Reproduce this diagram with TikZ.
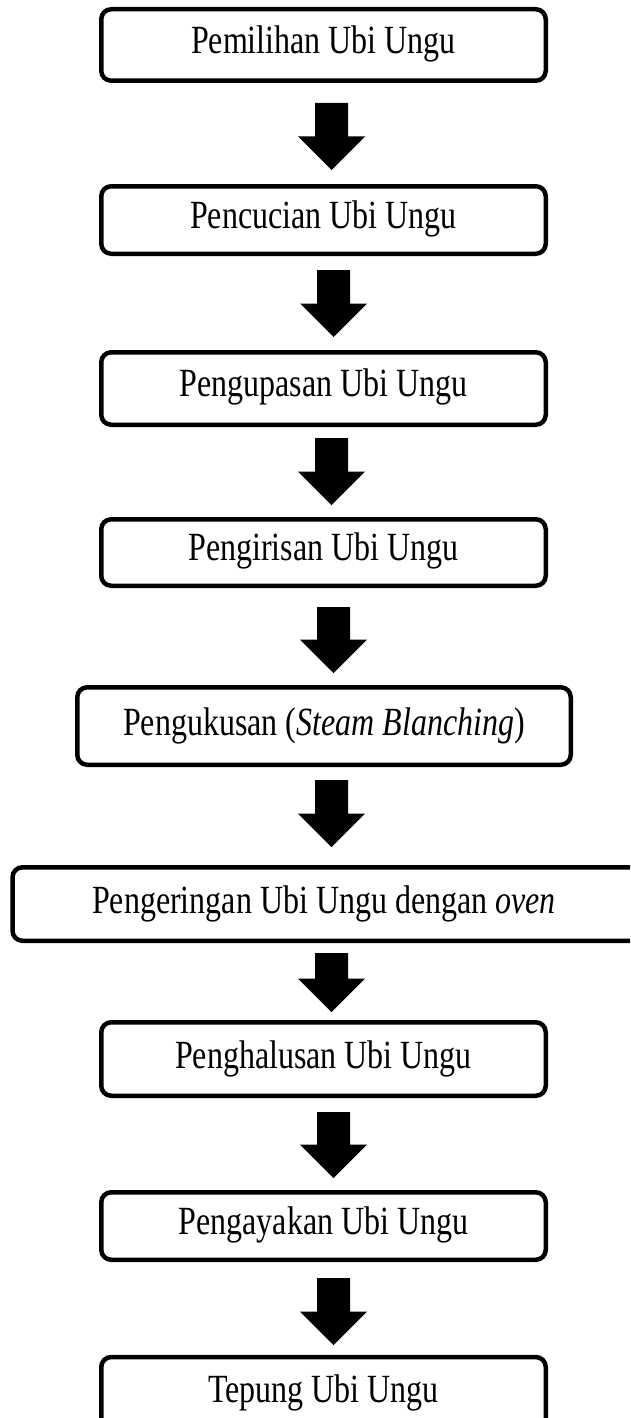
\documentclass[tikz,border=0pt]{standalone}
\usepackage{fontspec}
\setmainfont{Liberation Serif}
\usetikzlibrary{calc}
\tikzset{
  stepbox/.style={draw=black, line width=4.5pt, rounded corners=10pt, inner sep=0pt, fill=white},
  lbl/.style={anchor=base, inner sep=0pt, font=\fontsize{32}{38}\selectfont},
  arrowfill/.style={fill=black}
}
\newcommand\blkarrow[2]{%
  \fill[arrowfill] ($(#1)+(-16.5,0)$) -- ($(#1)+(16.5,0)$) -- ($(#2)+(16.5,-33.5)$) -- ($(#2)+(33.5,-33.5)$) -- (#2) -- ($(#2)+(-33.5,-33.5)$) -- ($(#2)+(-16.5,-33.5)$) -- cycle;}
\newcommand\tl[1]{\scalebox{1}[1.25]{#1}}
\begin{document}
\begin{tikzpicture}[x=1pt,y=-1pt]
\useasboundingbox (0,0) rectangle (630,1418);
\clip (0,0) rectangle (630,1418);
\fill[white] (0,0) rectangle (630,1418);
% boxes
\node[stepbox, minimum width=444.5pt, minimum height=71.5pt] (b1) at (323.5,45) {};
\node[stepbox, minimum width=444.5pt, minimum height=67.5pt] (b2) at (323.5,220) {};
\node[stepbox, minimum width=444.5pt, minimum height=72.5pt] (b3) at (323.5,388.5) {};
\node[stepbox, minimum width=444.5pt, minimum height=66.5pt] (b4) at (323.5,552.5) {};
\node[stepbox, minimum width=493.5pt, minimum height=77.5pt] (b5) at (324,726) {};
\node[stepbox, minimum width=655pt, minimum height=73.5pt] (b6) at (340,904) {};
\node[stepbox, minimum width=444.5pt, minimum height=73.5pt] (b7) at (323.5,1059) {};
\node[stepbox, minimum width=444.5pt, minimum height=67.5pt] (b8) at (323.5,1226) {};
\node[stepbox, minimum width=444.5pt, minimum height=72pt] (b9) at (323.5,1393) {};
% labels
\node[lbl] (t1) at ($(b1.center)+(0,9)$) {\tl{Pemilihan Ubi Ungu}};
\node[lbl] (t2) at ($(b2.center)+(0,8)$) {\tl{Pencucian Ubi Ungu}};
\node[lbl] (t3) at ($(b3.center)+(0,8)$) {\tl{Pengupasan Ubi Ungu}};
\node[lbl] (t4) at ($(b4.center)+(0,8)$) {\tl{Pengirisan Ubi Ungu}};
\node[lbl] (t5) at ($(b5.center)+(0,9)$) {\tl{Pengukusan (\textit{Steam Blanching})}};
\node[lbl] (t6) at ($(b6.center)+(-16,9)$) {\tl{Pengeringan Ubi Ungu dengan \textit{oven}}};
\node[lbl] (t7) at ($(b7.center)+(0,9)$) {\tl{Penghalusan Ubi Ungu}};
\node[lbl] (t8) at ($(b8.center)+(0,8)$) {\tl{Pengayakan Ubi Ungu}};
\node[lbl] (t9) at ($(b9.center)+(0,9)$) {\tl{Tepung Ubi Ungu}};
% arrow anchors
\coordinate (a1s) at (331.5,103);  \coordinate (a1e) at (331.5,170);
\coordinate (a2s) at (333.5,270);  \coordinate (a2e) at (333.5,337);
\coordinate (a3s) at (331.5,438);  \coordinate (a3e) at (331.5,505);
\coordinate (a4s) at (333.5,607);  \coordinate (a4e) at (333.5,673);
\coordinate (a5s) at (331.5,780);  \coordinate (a5e) at (331.5,847);
\coordinate (a6s) at (331.5,953);  \coordinate (a6e) at (331.5,1012);
\coordinate (a7s) at (333.5,1112); \coordinate (a7e) at (333.5,1178);
\coordinate (a8s) at (333.5,1278); \coordinate (a8e) at (333.5,1345);
\blkarrow{a1s}{a1e}
\blkarrow{a2s}{a2e}
\blkarrow{a3s}{a3e}
\blkarrow{a4s}{a4e}
\blkarrow{a5s}{a5e}
\blkarrow{a6s}{a6e}
\blkarrow{a7s}{a7e}
\blkarrow{a8s}{a8e}
\end{tikzpicture}
\end{document}
